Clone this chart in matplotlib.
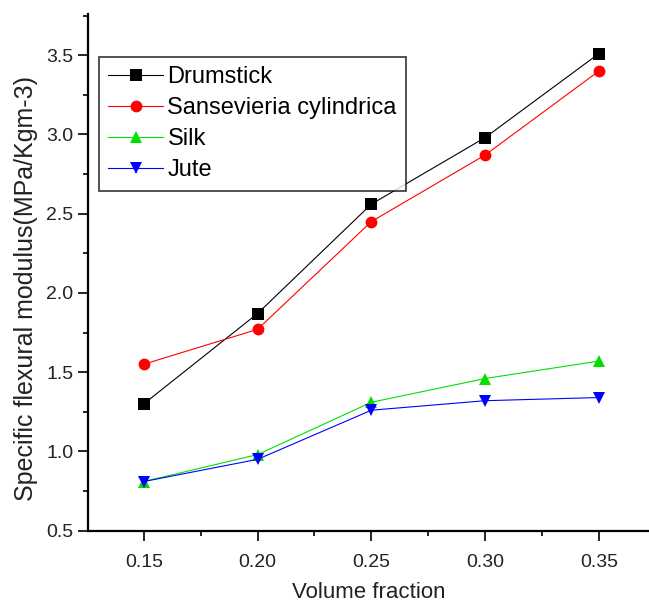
import matplotlib
matplotlib.use("Agg")
from matplotlib import pyplot as plt
from matplotlib.ticker import MultipleLocator

plt.rcParams['font.family'] = ['Liberation Sans', 'DejaVu Sans']

volume_fraction = [0.15, 0.20, 0.25, 0.30, 0.35]
drumstick = [1.30, 1.87, 2.56, 2.98, 3.51]
sansevieria = [1.55, 1.77, 2.45, 2.87, 3.40]
silk = [0.81, 0.98, 1.31, 1.46, 1.57]
jute = [0.81, 0.95, 1.26, 1.32, 1.34]

series = [
    ('Drumstick', drumstick, 'black', 's', 8),
    ('Sansevieria cylindrica', sansevieria, 'red', 'o', 8.5),
    ('Silk', silk, '#00e000', '^', 8.5),
    ('Jute', jute, 'blue', 'v', 8.5),
]

fig = plt.figure(figsize=(6.49, 6.06), dpi=100)
ax = fig.add_axes([0.1356, 0.1243, 0.8644, 0.8527])

for name, values, color, marker, ms in series:
    ax.plot(volume_fraction, values, color=color, lw=0.8, marker=marker,
            markersize=ms, markeredgewidth=0, label=name)

ax.set_xlim(0.1255, 0.372)
ax.set_ylim(0.5, 3.76)
ax.set_xticks(volume_fraction)
ax.set_xticklabels(['%.2f' % v for v in volume_fraction])
ax.set_yticks([0.5, 1.0, 1.5, 2.0, 2.5, 3.0, 3.5])
ax.xaxis.set_minor_locator(MultipleLocator(0.025))
ax.yaxis.set_minor_locator(MultipleLocator(0.25))

ax.spines['top'].set_visible(False)
ax.spines['right'].set_visible(False)
ax.spines['left'].set_linewidth(1.6)
ax.spines['bottom'].set_linewidth(1.6)
ax.tick_params(which='major', direction='out', length=7, width=1.2,
               labelsize=14, colors='black', labelcolor='#222222')
ax.tick_params(which='minor', direction='out', length=3.5, width=1.2)
ax.tick_params(axis='x', pad=10)

ax.set_xlabel('Volume fraction', fontsize=16, labelpad=8, color='#222222')
ax.set_ylabel('Specific flexural modulus(MPa/Kgm-3)', fontsize=18,
              color='#222222')
ax.yaxis.set_label_coords(-0.089, 0.468)

leg = ax.legend(loc='upper left', bbox_to_anchor=(0.0196, 0.917), fontsize=17,
                frameon=True, fancybox=False, borderpad=0.4,
                labelspacing=0.38, handlelength=2.3, handletextpad=0.2,
                borderaxespad=0)
leg.get_frame().set_edgecolor('black')
leg.get_frame().set_linewidth(1.2)

fig.savefig('out.png', dpi=100)
